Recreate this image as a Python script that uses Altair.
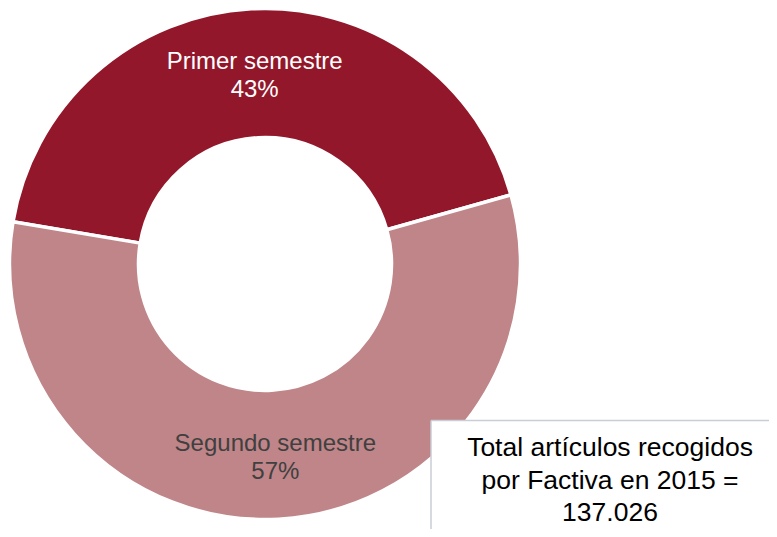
import math
import altair as alt
import pandas as pd

categories = ["Primer semestre", "Segundo semestre"]
shares = [43, 57]
labels = ["Primer semestre\n43%", "Segundo semestre\n57%"]
slice_colors = ["#93172A", "#BF8588"]
label_colors = ["#FFFFFF", "#404040"]
box_text = "Total artículos recogidos\npor Factiva en 2015 =\n137.026"

df = pd.DataFrame({"cat": categories, "share": shares, "label": labels, "order": [0, 1]})

W, H = 761, 521
CX, CY = 257, 256
start = math.radians(-80.5)
theta_scale = alt.Scale(range=[start, start + 2 * math.pi])

base = alt.Chart(df).encode(
    theta=alt.Theta("share:Q", stack=True, scale=theta_scale),
    order=alt.Order("order:Q"),
)

arcs = base.mark_arc(outerRadius=255.5, innerRadius=126.5, stroke="white", strokeWidth=3.5).encode(
    color=alt.Color("cat:N", scale=alt.Scale(domain=categories, range=slice_colors), legend=None),
    x=alt.value(CX),
    y=alt.value(CY),
)

texts = base.mark_text(radius=191, font="Liberation Sans", fontSize=24, lineBreak="\n",
                       lineHeight=28, align="center", baseline="middle", dy=-11).encode(
    text="label:N",
    color=alt.Color("cat:N", scale=alt.Scale(domain=categories, range=label_colors), legend=None),
    x=alt.value(CX),
    y=alt.value(CY),
)

box_df = pd.DataFrame({"t": [box_text]})
box = alt.Chart(box_df).mark_rect(fill="white").encode(
    x=alt.value(423), x2=alt.value(W), y=alt.value(412.5), y2=alt.value(H)
)
border_left = alt.Chart(box_df).mark_rule(color="#C9CDD6", strokeWidth=1.5).encode(
    x=alt.value(423), y=alt.value(412.5), y2=alt.value(H)
)
border_top = alt.Chart(box_df).mark_rule(color="#C9CDD6", strokeWidth=1.5).encode(
    x=alt.value(423), x2=alt.value(W), y=alt.value(412.5)
)
box_txt = alt.Chart(box_df).mark_text(font="Liberation Sans", fontSize=26.5, lineBreak="\n",
                                       lineHeight=32.5, align="center", baseline="alphabetic",
                                       color="#000000").encode(
    text="t:N", x=alt.value(602), y=alt.value(448)
)

chart = alt.layer(arcs, texts, box, border_left, border_top, box_txt).properties(
    width=W, height=H, padding=0, autosize=alt.AutoSizeParams(type="none")
).configure_view(stroke=None).resolve_scale(color="independent")

chart.save("out.html", embed_options={"renderer": "svg", "actions": False})
